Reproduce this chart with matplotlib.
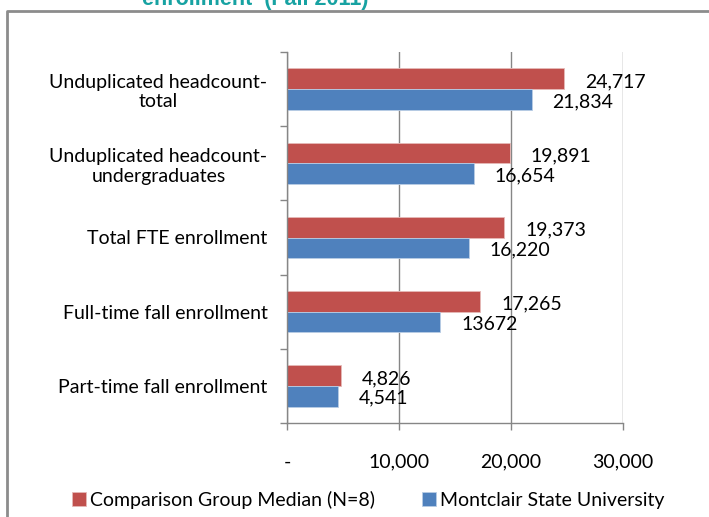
import numpy as np
import matplotlib
matplotlib.use("Agg")
import matplotlib.pyplot as plt
import matplotlib.ticker as ticker

categories = [
    "Unduplicated headcount-\ntotal",
    "Unduplicated headcount-\nundergraduates",
    "Total FTE enrollment",
    "Full-time fall enrollment",
    "Part-time fall enrollment",
]
comparison = [24717, 19891, 19373, 17265, 4826]
montclair = [21834, 16654, 16220, 13672, 4541]
comparison_labels = ["24,717", "19,891", "19,373", "17,265", "4,826"]
montclair_labels = ["21,834", "16,654", "16,220", "13672", "4,541"]
x_ticks = [0, 10000, 20000, 30000]

RED = "#c0504d"
BLUE = "#4f81bd"
GRID = "#868686"
FS = 14

plt.rcParams["font.family"] = ["Lato", "DejaVu Sans"]

fig = plt.figure(figsize=(7.09, 5.17), dpi=100)
ax = fig.add_axes([287 / 709, 1 - 423 / 517, 336 / 709, 371 / 517])

y = np.arange(len(categories))
h = 0.28
ax.barh(y - h / 2, comparison, height=h, color=RED, edgecolor="#e6b9b8", linewidth=0.6,
        label="Comparison Group Median (N=8)")
ax.barh(y + h / 2, montclair, height=h, color=BLUE, edgecolor="#b9cde5", linewidth=0.6,
        label="Montclair State University")

for yi, v, s in zip(y, comparison, comparison_labels):
    ax.annotate(s, (v, yi - h / 2), xytext=(21, -3), textcoords="offset pixels",
                ha="left", va="center", fontsize=FS)
for yi, v, s in zip(y, montclair, montclair_labels):
    ax.annotate(s, (v, yi + h / 2), xytext=(21, -2), textcoords="offset pixels",
                ha="left", va="center", fontsize=FS)

ax.set_xlim(0, 30000)
ax.set_ylim(len(categories) - 0.5, -0.5)
ax.set_xticks(x_ticks)
ax.xaxis.set_major_formatter(ticker.FuncFormatter(lambda v, _: "-" if v == 0 else f"{v:,.0f}"))
ax.set_yticks(np.arange(len(categories) + 1) - 0.5, minor=False)
ax.set_yticklabels([])
ax.set_yticks(y, minor=True)
ax.set_yticklabels(categories, minor=True, fontsize=FS, multialignment="center")
ax.tick_params(axis="y", which="minor", length=0, pad=14)
ax.tick_params(axis="y", which="major", length=5, color=GRID, width=1)
ax.tick_params(axis="x", length=5, color=GRID, width=1, labelsize=FS, pad=17)
ax.grid(axis="x", color=GRID, linewidth=1)
ax.set_axisbelow(True)
for side in ["top", "right"]:
    ax.spines[side].set_visible(False)
for side in ["left", "bottom"]:
    ax.spines[side].set_color(GRID)
    ax.spines[side].set_linewidth(1)

fig.legend(loc="center", bbox_to_anchor=(368 / 709, 1 - 500 / 517), ncol=2, frameon=False,
           fontsize=FS, handlelength=0.75, handleheight=0.75, handletextpad=0.2,
           columnspacing=2.4)

# outer chart frame, partly off the picture
fig.add_artist(plt.Line2D([7 / 709, 7 / 709, 1.01], [-0.01, 1 - 11 / 517, 1 - 11 / 517],
                          transform=fig.transFigure, color="#8c8c8c", linewidth=2))
fig.text(255 / 709, 1 - 5 / 517, "enrollment  (Fall 2011)", ha="center", va="baseline",
         fontsize=15.5, fontweight="bold", color="#17a2a2", family="Liberation Sans")

fig.savefig("out.png", dpi=100)
